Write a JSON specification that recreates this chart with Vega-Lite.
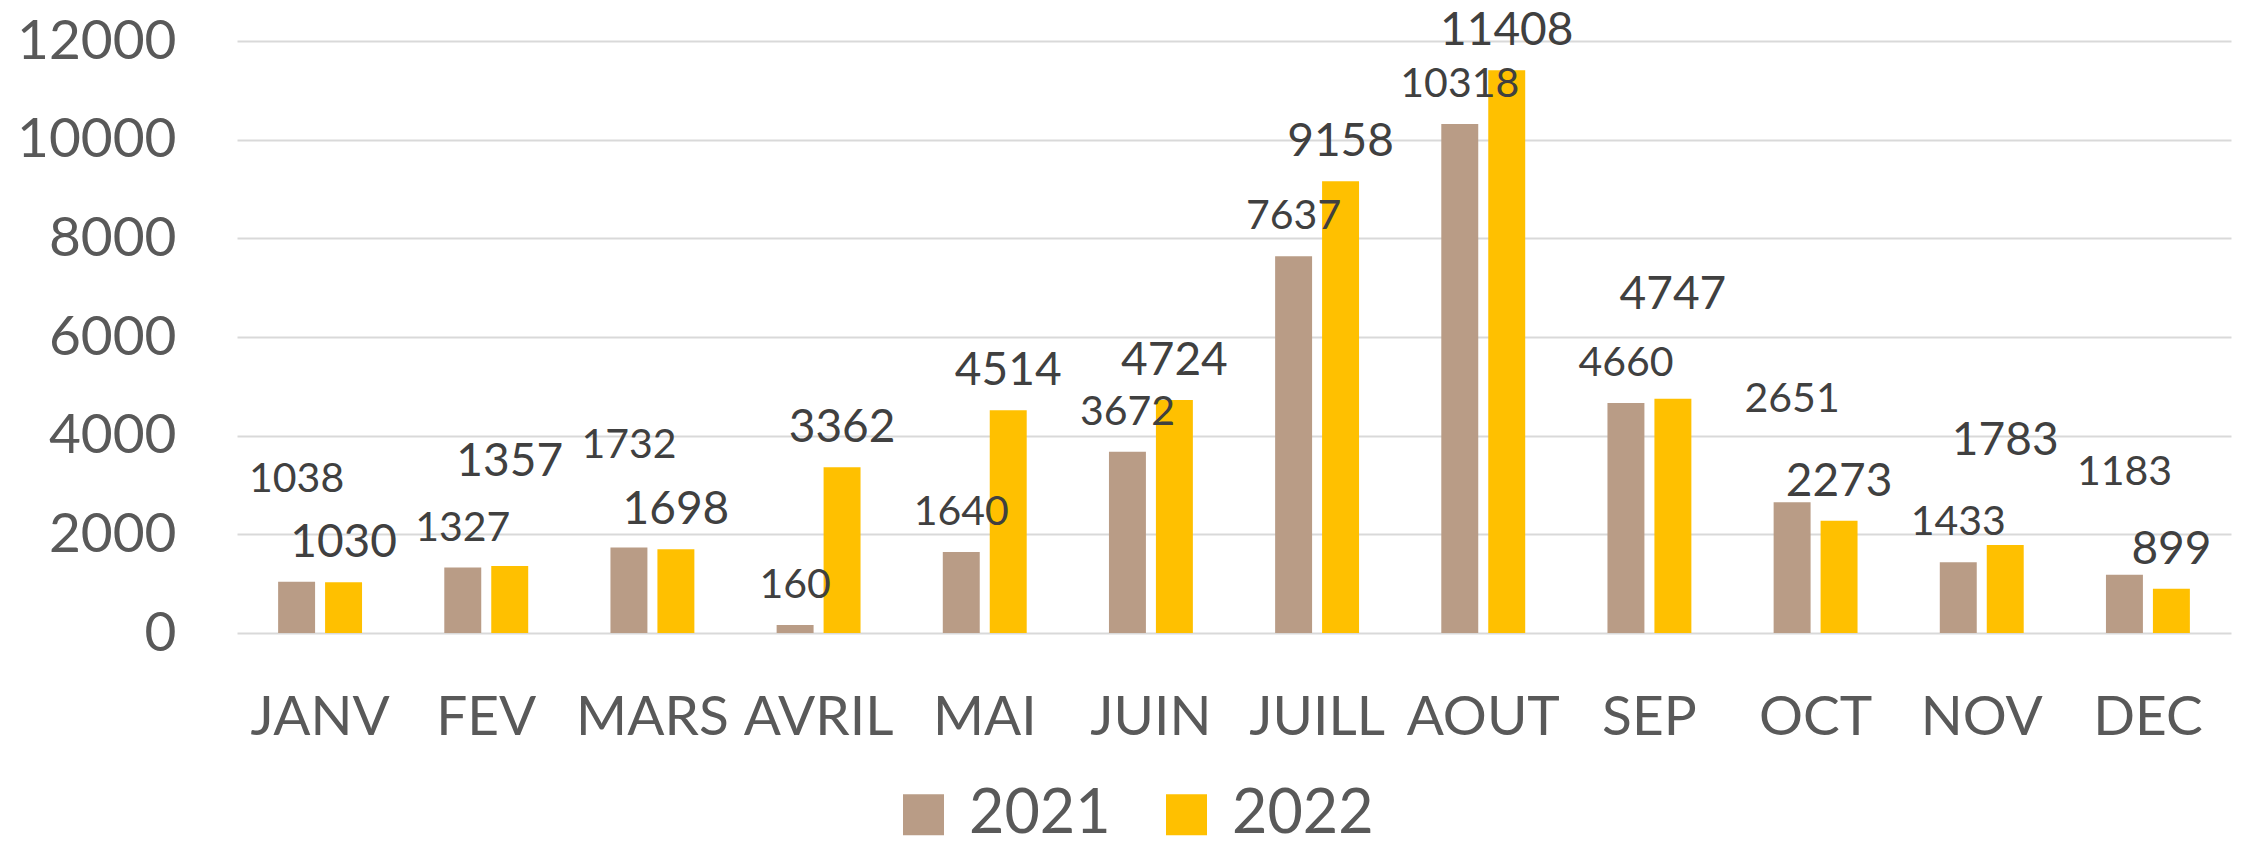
{
  "$schema": "https://vega.github.io/schema/vega-lite/v6.json",
  "width": 1994,
  "height": 592,
  "autosize": {"type": "none"},
  "padding": {"left": 237, "top": 41, "right": 13, "bottom": 216},
  "background": "white",
  "config": {"view": {"stroke": null}, "font": "Lato"},
  "data": {
    "values": [
      {"month": "JANV", "year": "2021", "value": 1038},
      {"month": "FEV", "year": "2021", "value": 1327},
      {"month": "MARS", "year": "2021", "value": 1732},
      {"month": "AVRIL", "year": "2021", "value": 160},
      {"month": "MAI", "year": "2021", "value": 1640},
      {"month": "JUIN", "year": "2021", "value": 3672},
      {"month": "JUILL", "year": "2021", "value": 7637},
      {"month": "AOUT", "year": "2021", "value": 10318},
      {"month": "SEP", "year": "2021", "value": 4660},
      {"month": "OCT", "year": "2021", "value": 2651},
      {"month": "NOV", "year": "2021", "value": 1433},
      {"month": "DEC", "year": "2021", "value": 1183},
      {"month": "JANV", "year": "2022", "value": 1030},
      {"month": "FEV", "year": "2022", "value": 1357},
      {"month": "MARS", "year": "2022", "value": 1698},
      {"month": "AVRIL", "year": "2022", "value": 3362},
      {"month": "MAI", "year": "2022", "value": 4514},
      {"month": "JUIN", "year": "2022", "value": 4724},
      {"month": "JUILL", "year": "2022", "value": 9158},
      {"month": "AOUT", "year": "2022", "value": 11408},
      {"month": "SEP", "year": "2022", "value": 4747},
      {"month": "OCT", "year": "2022", "value": 2273},
      {"month": "NOV", "year": "2022", "value": 1783},
      {"month": "DEC", "year": "2022", "value": 899}
    ]
  },
  "transform": [
    {"joinaggregate": [{"op": "max", "field": "value", "as": "mx"}, {"op": "min", "field": "value", "as": "mn"}], "groupby": ["month"]}
  ],
  "encoding": {
    "x": {
      "field": "month", "type": "nominal",
      "sort": ["JANV", "FEV", "MARS", "AVRIL", "MAI", "JUIN", "JUILL", "AOUT", "SEP", "OCT", "NOV", "DEC"],
      "scale": {"paddingInner": 0.495, "paddingOuter": 0.2475},
      "axis": {"title": null, "labelAngle": 0, "labelFontSize": 55, "labelColor": "#595959", "labelPadding": 58, "ticks": false, "tickSize": 0, "domain": false, "grid": false, "labelOverlap": false, "labelBaseline": "top"}
    },
    "xOffset": {"field": "year", "type": "nominal", "sort": ["2021", "2022"], "scale": {"paddingInner": 0.213, "paddingOuter": 0}},
    "y": {
      "field": "value", "type": "quantitative",
      "scale": {"domain": [0, 12000], "nice": false},
      "axis": {"title": null, "values": [0, 2000, 4000, 6000, 8000, 10000, 12000], "format": "d", "labelFontSize": 55, "labelColor": "#595959", "labelPadding": 61, "ticks": false, "tickSize": 0, "domain": false, "grid": true, "gridColor": "#D9D9D9", "gridWidth": 2}
    }
  },
  "layer": [
    {
      "mark": {"type": "bar"},
      "encoding": {
        "color": {
          "field": "year", "type": "nominal",
          "scale": {"domain": ["2021", "2022"], "range": ["#B99C86", "#FFC000"]},
          "legend": {"title": null, "orient": "none", "legendX": 656, "legendY": 743, "direction": "horizontal", "symbolType": "square", "symbolSize": 1681, "symbolStrokeWidth": 0, "labelFontSize": 61, "labelColor": "#595959", "labelOffset": 15, "columnPadding": 45, "padding": 0, "labelLimit": 400}
        }
      }
    },
    {
      "transform": [{"filter": "datum.year == '2021' && !(datum.value == datum.mx && datum.mx - datum.mn < 600)"}],
      "mark": {"type": "text", "baseline": "alphabetic", "dy": -27, "fontSize": 41, "color": "#404040"},
      "encoding": {"text": {"field": "value", "type": "quantitative", "format": "d"}}
    },
    {
      "transform": [{"filter": "datum.year == '2022' && !(datum.value == datum.mx && datum.mx - datum.mn < 600)"}],
      "mark": {"type": "text", "baseline": "alphabetic", "dy": -25, "fontSize": 46, "color": "#404040"},
      "encoding": {"text": {"field": "value", "type": "quantitative", "format": "d"}}
    },
    {
      "transform": [{"filter": "datum.year == '2021' && datum.value == datum.mx && datum.mx - datum.mn < 600"}],
      "mark": {"type": "text", "baseline": "alphabetic", "dy": -90, "fontSize": 41, "color": "#404040"},
      "encoding": {"text": {"field": "value", "type": "quantitative", "format": "d"}}
    },
    {
      "transform": [{"filter": "datum.year == '2022' && datum.value == datum.mx && datum.mx - datum.mn < 600"}],
      "mark": {"type": "text", "baseline": "alphabetic", "dy": -90, "fontSize": 46, "color": "#404040"},
      "encoding": {"text": {"field": "value", "type": "quantitative", "format": "d"}}
    }
  ]
}
